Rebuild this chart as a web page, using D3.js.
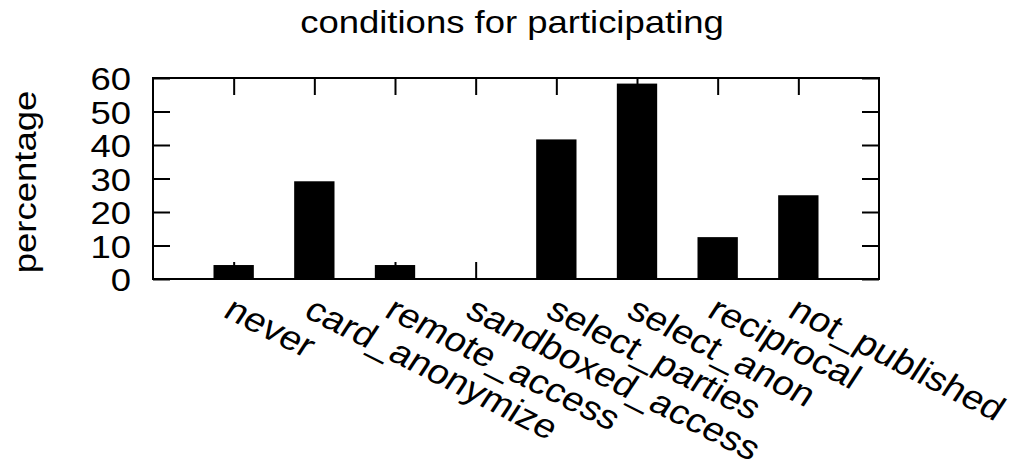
<!DOCTYPE html>
<html>
<head>
<meta charset="utf-8">
<script src="https://cdn.jsdelivr.net/npm/d3@7"></script>
<style>
  body { margin: 0; background: #fff; }
  text { font-family: "Liberation Sans", Arial, sans-serif; font-size: 32px; fill: #000; }
</style>
</head>
<body>
<div id="chart"></div>
<script>
// chart data
const categories = ["never", "card_anonymize", "remote_access", "sandboxed_access",
    "select_parties", "select_anon", "reciprocal", "not_published"];
const percentages = [4.17, 29.17, 4.17, 0, 41.67, 58.33, 12.5, 25];
const yTicks = [0, 10, 20, 30, 40, 50, 60];
const titleText = "conditions for participating";
const yLabelText = "percentage";

const width = 1015, height = 472;
const plot = { left: 153, right: 879, top: 78, bottom: 279 };
const tickLen = 17;
const stretch = 1.14; // glyphs in the reference are a bit wider than tall

const svg = d3.select("#chart").append("svg")
    .attr("width", width)
    .attr("height", height);

// index scale: one empty slot each side of the categories
const x = d3.scaleLinear()
    .domain([-1, categories.length])
    .range([plot.left, plot.right]);
const y = d3.scaleLinear()
    .domain([0, 60])
    .range([plot.bottom, plot.top]);
const barWidth = (x(1) - x(0)) * 0.5;

// bars
svg.append("g").selectAll("rect")
    .data(percentages)
    .join("rect")
    .attr("x", (d, i) => x(i) - barWidth / 2)
    .attr("y", d => y(d))
    .attr("width", barWidth)
    .attr("height", d => y(0) - y(d))
    .attr("fill", "#000");

// ticks on all four sides, pointing inward
const idx = d3.range(categories.length);
const axisStyle = g => {
    g.select(".domain").remove();
    g.selectAll("line").attr("stroke", "#000").attr("stroke-width", 2);
    g.attr("font-size", null).attr("font-family", null);
};

svg.append("g")
    .attr("transform", `translate(${plot.left},0)`)
    .call(d3.axisLeft(y).tickValues(yTicks).tickSize(-tickLen).tickPadding(22))
    .call(axisStyle)
    .call(g => g.selectAll("text")
        .attr("x", -22 / stretch)
        .attr("transform", `scale(${stretch},1)`)
        .attr("dy", "0.36em"));

svg.append("g")
    .attr("transform", `translate(${plot.right},0)`)
    .call(d3.axisRight(y).tickValues(yTicks).tickSize(-tickLen).tickFormat(""))
    .call(axisStyle);

svg.append("g")
    .attr("transform", `translate(0,${plot.bottom})`)
    .call(d3.axisBottom(x).tickValues(idx).tickSize(-tickLen).tickFormat(""))
    .call(axisStyle);

svg.append("g")
    .attr("transform", `translate(0,${plot.top})`)
    .call(d3.axisTop(x).tickValues(idx).tickSize(-tickLen).tickFormat(""))
    .call(axisStyle);

// frame
svg.append("rect")
    .attr("x", plot.left)
    .attr("y", plot.top)
    .attr("width", plot.right - plot.left)
    .attr("height", plot.bottom - plot.top)
    .attr("fill", "none")
    .attr("stroke", "#000")
    .attr("stroke-width", 2);

// rotated category labels (rotated, then stretched sideways like the reference)
svg.append("g").selectAll("text")
    .data(categories)
    .join("text")
    .attr("transform", (d, i) => `translate(${x(i) - 12},${plot.bottom + 37}) scale(${stretch},1) rotate(30)`)
    .style("font-size", "34px")
    .text(d => d);

// title
svg.append("text")
    .attr("transform", `translate(512,33) scale(${stretch},1)`)
    .attr("text-anchor", "middle")
    .text(titleText);

// y axis label
svg.append("text")
    .attr("transform", `translate(36,182) rotate(-90) scale(${stretch},1)`)
    .attr("text-anchor", "middle")
    .text(yLabelText);
</script>
</body>
</html>
